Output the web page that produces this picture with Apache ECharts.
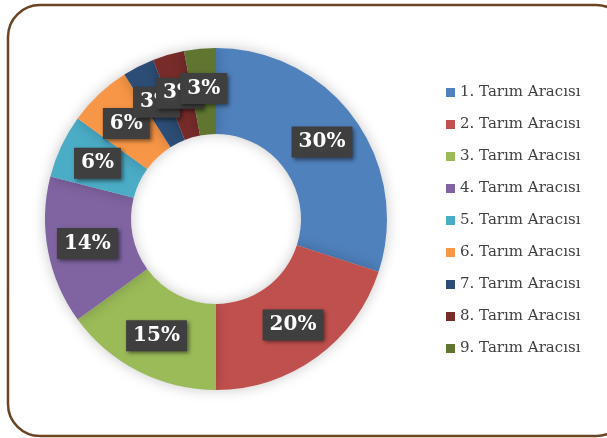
<!DOCTYPE html>
<html lang="tr">
<head>
    <meta charset="UTF-8">
    <title>Tarım Aracı</title>
    <style>
        html, body { margin: 0; padding: 0; background: #fff; }
    </style>
</head>
<body>
<div id="chartBox" style="width: 607px;height: 438px;"></div>
<script type="text/javascript" src="https://cdn.jsdelivr.net/npm/echarts@6/dist/echarts.min.js"></script>
<script type="text/javascript">
    var categories = ['1. Tarım Aracısı', '2. Tarım Aracısı', '3. Tarım Aracısı', '4. Tarım Aracısı',
        '5. Tarım Aracısı', '6. Tarım Aracısı', '7. Tarım Aracısı', '8. Tarım Aracısı', '9. Tarım Aracısı'];
    var values = [30, 20, 15, 14, 6, 6, 3, 3, 3];
    var colors = ['#4F81BD', '#C0504D', '#9BBB59', '#8064A2', '#4BACC6', '#F79646', '#2C4D75', '#772C2A', '#5F7530'];

    var myChart = echarts.init(document.getElementById('chartBox'));

    var pieData = [];
    for (var i = 0; i < categories.length; i++) {
        pieData.push({ name: categories[i], value: values[i], itemStyle: { color: colors[i] } });
    }

    myChart.setOption({
        animation: false,
        graphic: [{
            type: 'rect',
            shape: { x: 8, y: 5, width: 620, height: 431, r: 32 },
            style: { fill: 'none', stroke: '#6B4423', lineWidth: 2.5 },
            z: -1
        }],
        legend: {
            orient: 'vertical',
            left: 441,
            top: 80,
            itemWidth: 9,
            itemHeight: 9,
            itemGap: 17,
            icon: 'rect',
            data: categories,
            textStyle: { fontFamily: 'DejaVu Serif', fontSize: 15, color: '#404040' }
        },
        series: [{
            type: 'pie',
            center: [216, 219],
            radius: [85, 171],
            startAngle: 90,
            clockwise: true,
            avoidLabelOverlap: false,
            data: pieData,
            itemStyle: {
                shadowBlur: 14,
                shadowColor: 'rgba(0,0,0,0.22)'
            },
            label: {
                position: 'inside',
                formatter: '{d}%',
                color: '#fff',
                fontFamily: 'DejaVu Serif',
                fontWeight: 'bold',
                fontSize: 20,
                lineHeight: 22,
                backgroundColor: '#3F3F3F',
                padding: [5, 7, 4, 7],
                shadowColor: 'rgba(0,0,0,0.5)',
                shadowBlur: 4,
                shadowOffsetX: 2,
                shadowOffsetY: 2
            },
            labelLayout: { hideOverlap: false },
            labelLine: { show: false }
        }]
    });
</script>
</body>
</html>
